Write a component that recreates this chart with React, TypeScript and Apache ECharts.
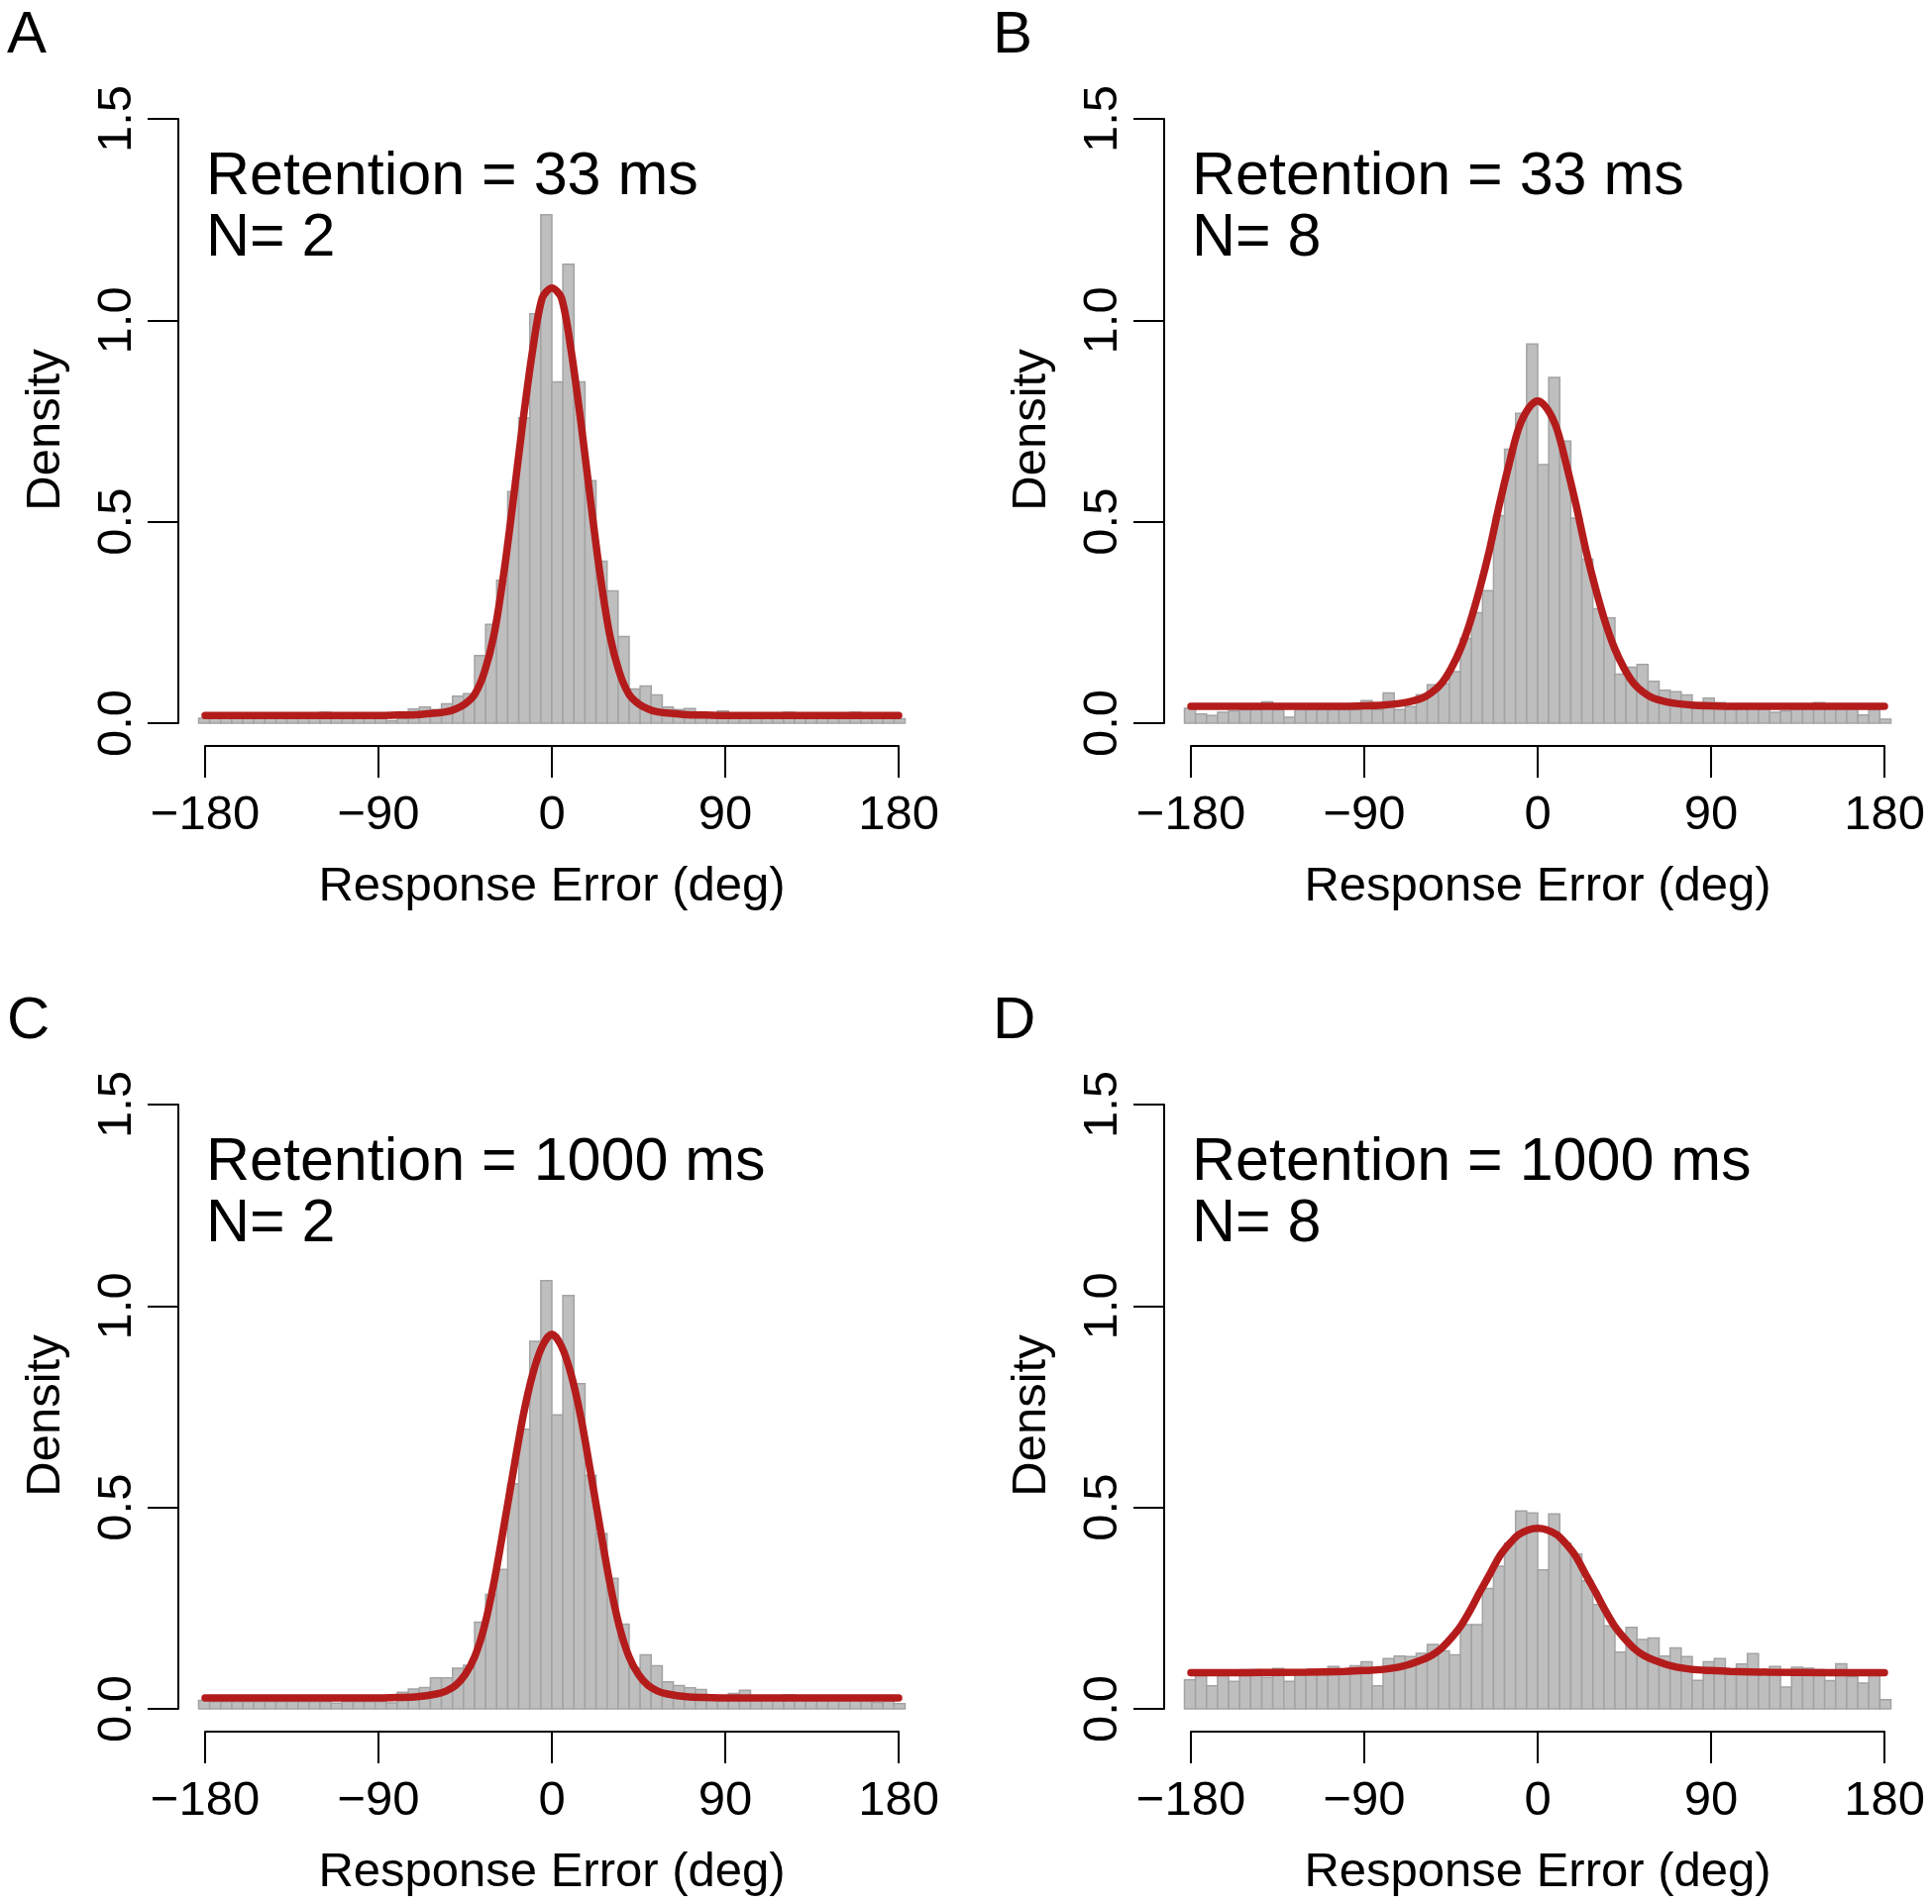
import React, { useEffect, useRef } from "react";
import * as echarts from "echarts";

// Histogram bins: 64 bins of 0.1 rad starting at -3.2 rad
const BIN_START_RAD = -3.2;
const BIN_WIDTH_RAD = 0.1;

const HIST_A = [
  0.012, 0.012, 0.012, 0.012, 0.012, 0.012, 0.012, 0.012, 0.012, 0.012,
  0.013, 0.027, 0.013, 0.012, 0.012, 0.012, 0.012, 0.006, 0.012, 0.035,
  0.040, 0.034, 0.048, 0.067, 0.073, 0.168, 0.245, 0.355, 0.575, 0.758,
  1.016, 1.262, 0.847, 1.139, 0.847, 0.602, 0.402, 0.328, 0.215, 0.085,
  0.092, 0.070, 0.040, 0.034, 0.036, 0.025, 0.017, 0.030, 0.016, 0.016,
  0.016, 0.016, 0.016, 0.027, 0.016, 0.016, 0.016, 0.016, 0.016, 0.027,
  0.016, 0.016, 0.016, 0.011,
];
const HIST_B = [
  0.037, 0.023, 0.019, 0.027, 0.030, 0.033, 0.033, 0.053, 0.033, 0.015,
  0.033, 0.033, 0.033, 0.033, 0.033, 0.033, 0.056, 0.033, 0.075, 0.034,
  0.041, 0.071, 0.095, 0.098, 0.128, 0.210, 0.274, 0.329, 0.515, 0.680,
  0.769, 0.941, 0.642, 0.858, 0.700, 0.509, 0.407, 0.284, 0.261, 0.122,
  0.139, 0.146, 0.104, 0.082, 0.078, 0.070, 0.045, 0.062, 0.051, 0.045,
  0.048, 0.045, 0.043, 0.027, 0.030, 0.041, 0.041, 0.051, 0.041, 0.041,
  0.041, 0.020, 0.033, 0.010,
];
const HIST_C = [
  0.021, 0.018, 0.018, 0.018, 0.018, 0.018, 0.018, 0.018, 0.018, 0.018,
  0.018, 0.018, 0.014, 0.018, 0.018, 0.018, 0.018, 0.015, 0.041, 0.049,
  0.053, 0.077, 0.077, 0.101, 0.108, 0.215, 0.284, 0.346, 0.559, 0.694,
  0.912, 1.063, 0.730, 1.026, 0.807, 0.580, 0.435, 0.324, 0.210, 0.102,
  0.134, 0.107, 0.067, 0.058, 0.052, 0.048, 0.031, 0.027, 0.038, 0.046,
  0.027, 0.027, 0.027, 0.035, 0.027, 0.027, 0.027, 0.027, 0.027, 0.027,
  0.027, 0.016, 0.027, 0.013,
];
const HIST_D = [
  0.072, 0.084, 0.057, 0.084, 0.068, 0.097, 0.097, 0.078, 0.100, 0.068,
  0.093, 0.093, 0.093, 0.105, 0.093, 0.107, 0.117, 0.057, 0.125, 0.131,
  0.130, 0.138, 0.160, 0.144, 0.134, 0.209, 0.209, 0.299, 0.354, 0.411,
  0.491, 0.486, 0.345, 0.484, 0.411, 0.384, 0.318, 0.259, 0.206, 0.141,
  0.202, 0.172, 0.176, 0.131, 0.151, 0.130, 0.071, 0.117, 0.125, 0.095,
  0.111, 0.137, 0.095, 0.105, 0.054, 0.103, 0.101, 0.097, 0.070, 0.112,
  0.080, 0.064, 0.084, 0.023,
];

// Fitted curve, read at these response errors (deg)
const CURVE_X = [
  -180, -150, -120, -100, -90, -80, -70, -60, -55, -50, -45, -40, -35, -30, -25,
  -20, -15, -10, -5, 0, 5, 10, 15, 20, 25, 30, 35, 40, 45, 50, 55, 60, 70, 80,
  90, 100, 120, 150, 180,
];
const CURVE_A = [
  0.019, 0.019, 0.019, 0.019, 0.019, 0.020, 0.021, 0.025, 0.028, 0.035, 0.048,
  0.072, 0.127, 0.220, 0.370, 0.555, 0.750, 0.925, 1.055, 1.080, 1.055, 0.925,
  0.750, 0.555, 0.370, 0.220, 0.127, 0.072, 0.048, 0.035, 0.028, 0.025, 0.021,
  0.020, 0.019, 0.019, 0.019, 0.019, 0.019,
];
const CURVE_B = [
  0.042, 0.042, 0.042, 0.042, 0.043, 0.045, 0.050, 0.062, 0.076, 0.098, 0.135,
  0.185, 0.252, 0.335, 0.430, 0.540, 0.640, 0.730, 0.780, 0.800, 0.780, 0.730,
  0.640, 0.540, 0.430, 0.335, 0.252, 0.185, 0.135, 0.098, 0.076, 0.062, 0.050,
  0.045, 0.043, 0.042, 0.042, 0.042, 0.042,
];
const CURVE_C = [
  0.027, 0.027, 0.027, 0.027, 0.027, 0.028, 0.030, 0.037, 0.044, 0.058, 0.085,
  0.130, 0.205, 0.315, 0.450, 0.590, 0.725, 0.830, 0.900, 0.930, 0.900, 0.830,
  0.725, 0.590, 0.450, 0.315, 0.205, 0.130, 0.085, 0.058, 0.044, 0.037, 0.030,
  0.028, 0.027, 0.027, 0.027, 0.027, 0.027,
];
const CURVE_D = [
  0.090, 0.090, 0.091, 0.093, 0.095, 0.098, 0.106, 0.122, 0.133, 0.150, 0.175,
  0.205, 0.245, 0.290, 0.333, 0.377, 0.408, 0.432, 0.444, 0.448, 0.444, 0.432,
  0.408, 0.377, 0.333, 0.290, 0.245, 0.205, 0.175, 0.150, 0.133, 0.122, 0.106,
  0.098, 0.095, 0.093, 0.091, 0.090, 0.090,
];

const PANEL_LETTERS = ["A", "B", "C", "D"];
const RETENTION = ["33", "33", "1000", "1000"];
const SET_SIZE = ["2", "8", "2", "8"];
const HISTS = [HIST_A, HIST_B, HIST_C, HIST_D];
const CURVES = [CURVE_A, CURVE_B, CURVE_C, CURVE_D];

const X_TICKS = { min: -180, max: 180, interval: 90 };
const Y_TICKS = { min: 0, max: 1.5, interval: 0.5 };

const FONT = "'Liberation Sans', Arial, Helvetica, sans-serif";

export default function App() {
  const ref = useRef<HTMLDivElement>(null);

  useEffect(() => {
    document.body.style.margin = "0";
    const chart = echarts.init(ref.current as HTMLDivElement, null, {
      renderer: "svg",
    });
    const grid: any[] = [];
    const xAxis: any[] = [];
    const yAxis: any[] = [];
    const series: any[] = [];
    const graphic: any[] = [];
    const pxPerDeg = 700 / 360;
    const toDeg = (r: number) => (r * 180) / Math.PI;

    const axisLine = { show: true, lineStyle: { color: "#000", width: 2 } };
    const tickStyle = { color: "#000", width: 2 };

    for (let i = 0; i < 4; i++) {
      const ox = (i % 2) * 995;
      const oy = Math.floor(i / 2) * 995;
      const g = grid.length;

      // data grid
      grid.push({
        left: 207 + ox - 10 * pxPerDeg,
        top: 120 + oy,
        width: 380 * pxPerDeg,
        height: 610,
      });
      xAxis.push({ gridIndex: g, type: "value", min: -190, max: 190, show: false, splitLine: { show: false } });
      yAxis.push({ gridIndex: g, type: "value", min: 0, max: 1.5, show: false, splitLine: { show: false } });

      // x-axis grid (R style detached axis)
      grid.push({ left: 207 + ox, top: 752 + oy, width: 700, height: 1 });
      xAxis.push({
        gridIndex: g + 1,
        type: "value",
        position: "bottom",
        ...X_TICKS,
        axisLine,
        axisTick: { show: true, inside: false, length: 32, lineStyle: tickStyle },
        axisLabel: {
          show: true,
          margin: 42,
          fontSize: 49,
          color: "#000",
          fontFamily: FONT,
          formatter: (v: number) => (v < 0 ? "\u2212" + Math.abs(v) : String(v)),
        },
        splitLine: { show: false },
      });
      yAxis.push({ gridIndex: g + 1, type: "value", show: false, splitLine: { show: false } });

      // y-axis grid
      grid.push({ left: 180 + ox, top: 120 + oy, width: 1, height: 610 });
      xAxis.push({ gridIndex: g + 2, type: "value", show: false, splitLine: { show: false } });
      yAxis.push({
        gridIndex: g + 2,
        type: "value",
        position: "left",
        ...Y_TICKS,
        axisLine,
        axisTick: { show: true, inside: false, length: 31, lineStyle: tickStyle },
        axisLabel: {
          show: true,
          rotate: 90,
          margin: 41,
          fontSize: 49,
          color: "#000",
          fontFamily: FONT,
          formatter: (v: number) => v.toFixed(1),
        },
        splitLine: { show: false },
      });

      const bins = HISTS[i].map((h, k) => [
        toDeg(BIN_START_RAD + k * BIN_WIDTH_RAD),
        toDeg(BIN_START_RAD + (k + 1) * BIN_WIDTH_RAD),
        h,
      ]);
      series.push({
        type: "custom",
        xAxisIndex: g,
        yAxisIndex: g,
        data: bins,
        encode: { x: [0, 1], y: 2 },
        z: 1,
        renderItem: (_p: any, api: any) => {
          const p0 = api.coord([api.value(0), 0]);
          const p1 = api.coord([api.value(1), api.value(2)]);
          return {
            type: "rect",
            shape: { x: p0[0], y: p1[1], width: p1[0] - p0[0], height: p0[1] - p1[1] },
            style: { fill: "#bebebe", stroke: "#a3a3a3", lineWidth: 1.5 },
          };
        },
      });
      series.push({
        type: "line",
        xAxisIndex: g,
        yAxisIndex: g,
        data: CURVE_X.map((x, j) => [x, CURVES[i][j]]),
        smooth: 0.3,
        showSymbol: false,
        z: 3,
        lineStyle: { color: "#b41c1c", width: 7.5, cap: "round" },
      });

      graphic.push({
        type: "text",
        x: 7 + ox,
        y: 2 + oy,
        style: { text: PANEL_LETTERS[i], fontSize: 60, fontFamily: FONT, fill: "#000", textAlign: "left", verticalAlign: "top" },
      });
      graphic.push({
        type: "text",
        x: 208 + ox,
        y: 175 + oy,
        style: { text: `Retention = ${RETENTION[i]} ms`, fontSize: 61, fontFamily: FONT, fill: "#000", textAlign: "left", verticalAlign: "middle" },
      });
      graphic.push({
        type: "text",
        x: 208 + ox,
        y: 237 + oy,
        style: { text: `N= ${SET_SIZE[i]}`, fontSize: 61, fontFamily: FONT, fill: "#000", textAlign: "left", verticalAlign: "middle" },
      });
      graphic.push({
        type: "text",
        x: 43 + ox,
        y: 434 + oy,
        rotation: Math.PI / 2,
        style: { text: "Density", fontSize: 49, fontFamily: FONT, fill: "#000", textAlign: "center", verticalAlign: "middle" },
      });
      graphic.push({
        type: "text",
        x: 557 + ox,
        y: 892 + oy,
        style: { text: "Response Error (deg)", fontSize: 49, fontFamily: FONT, fill: "#000", textAlign: "center", verticalAlign: "middle" },
      });
    }

    chart.setOption({
      animation: false,
      backgroundColor: "#fff",
      grid,
      xAxis,
      yAxis,
      series,
      graphic,
    });
    return () => chart.dispose();
  }, []);

  return (
    <div
      ref={ref}
      style={{ position: "absolute", left: 0, top: 0, width: 1950, height: 1922 }}
    />
  );
}
